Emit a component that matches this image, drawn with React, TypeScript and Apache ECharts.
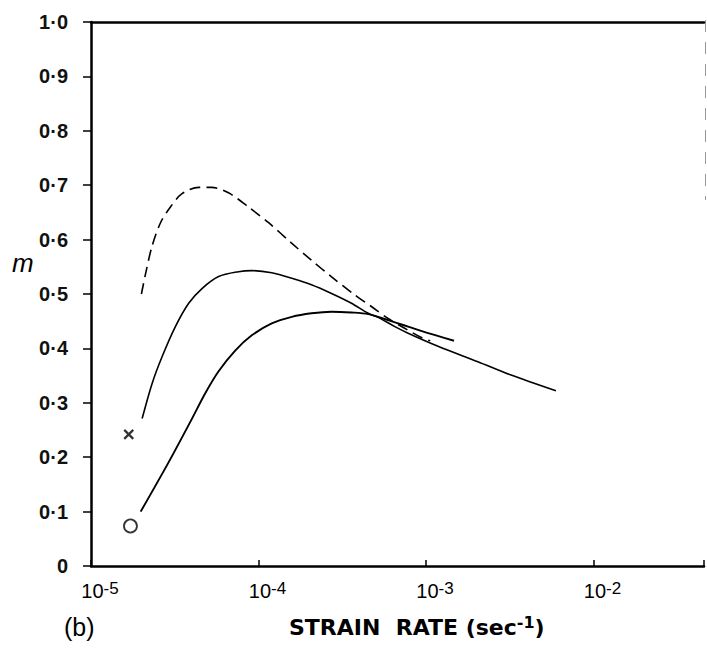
import React, { useEffect, useRef } from "react";
import * as echarts from "echarts";

// Strain rate (sec^-1) and m values
const dashedRate = [2.0e-5, 2.12e-5, 2.31e-5, 2.6e-5, 2.98e-5, 3.48e-5, 4.4e-5, 5.25e-5, 6.62e-5, 8.71e-5, 1.15e-4, 1.57e-4, 2.07e-4, 2.72e-4, 3.77e-4, 4.72e-4, 5.94e-4, 7.46e-4, 9.38e-4, 1.06e-3];
const dashedM = [0.5, 0.538, 0.587, 0.631, 0.66, 0.684, 0.696, 0.696, 0.686, 0.66, 0.631, 0.594, 0.562, 0.532, 0.498, 0.477, 0.455, 0.437, 0.42, 0.414];

const upperRate = [2.02e-5, 2.32e-5, 2.66e-5, 3.19e-5, 3.83e-5, 4.6e-5, 5.78e-5, 7.6e-5, 9.12e-5, 1.2e-4, 1.58e-4, 2.07e-4, 2.73e-4, 3.59e-4, 4.52e-4, 5.18e-4, 6.52e-4, 7.82e-4, 1.18e-3, 2.04e-3, 3.22e-3, 5.97e-3];
const upperM = [0.271, 0.336, 0.385, 0.44, 0.483, 0.51, 0.532, 0.541, 0.543, 0.539, 0.529, 0.517, 0.501, 0.483, 0.4645, 0.457, 0.44, 0.428, 0.404, 0.3756, 0.351, 0.322];

const lowerRate = [1.98e-5, 2.91e-5, 4.01e-5, 4.82e-5, 5.78e-5, 7.26e-5, 9.12e-5, 1.2e-4, 1.58e-4, 2.07e-4, 2.73e-4, 3.59e-4, 4.52e-4, 5.94e-4, 7.82e-4, 1.03e-3, 1.47e-3];
const lowerM = [0.1, 0.191, 0.271, 0.318, 0.358, 0.396, 0.424, 0.446, 0.458, 0.4645, 0.4675, 0.466, 0.463, 0.452, 0.44, 0.428, 0.414];

const crossPoint = [1.68e-5, 0.242];
const circlePoint = [1.72e-5, 0.0735];

const xMin = 1e-5;
const xMax = Math.pow(10, -1.34);
const yTicks = [0, 0.1, 0.2, 0.3, 0.4, 0.5, 0.6, 0.7, 0.8, 0.9, 1.0];

const pairs = (xs: number[], ys: number[]) => xs.map((x, i) => [x, ys[i]]);

export default function App() {
  const ref = useRef<HTMLDivElement>(null);
  useEffect(() => {
    if (!ref.current) return;
    const chart = echarts.init(ref.current, null, { renderer: "svg" });
    const font = "Liberation Sans";
    const lineCommon = {
      type: "line" as const,
      smooth: 0.3,
      showSymbol: false,
      symbol: "none",
      silent: true,
    };
    chart.setOption({
      animation: false,
      backgroundColor: "#ffffff",
      grid: { left: 91, right: 1, top: 22, bottom: 100, show: false },
      xAxis: [
        {
          type: "log",
          logBase: 10,
          min: xMin,
          max: xMax,
          position: "bottom",
          axisLine: { show: true, lineStyle: { color: "#000", width: 2.5 } },
          axisTick: { show: true, inside: true, length: 6, lineStyle: { color: "#000", width: 1.5 } },
          splitLine: { show: false },
          axisLabel: {
            margin: 14,
            formatter: (v: number) => {
              const e = Math.log10(v);
              if (Math.abs(e - Math.round(e)) > 1e-6) return "";
              return "{b|10}{s|-" + -Math.round(e) + "}";
            },
            rich: {
              b: { fontFamily: font, fontSize: 20, color: "#000", padding: [0, 0, 0, 18], lineHeight: 22 },
              s: { fontFamily: font, fontSize: 17, color: "#000", verticalAlign: "top", lineHeight: 15, padding: [0, 0, 10, 0] },
            },
          },
        },
        {
          type: "log",
          logBase: 10,
          min: xMin,
          max: xMax,
          position: "top",
          axisLine: { show: true, lineStyle: { color: "#000", width: 2.5 } },
          axisTick: { show: false },
          axisLabel: { show: false },
          splitLine: { show: false },
        },
      ],
      yAxis: [
        {
          type: "value",
          min: 0,
          max: 1,
          interval: 0.1,
          position: "left",
          axisLine: { show: true, lineStyle: { color: "#000", width: 2.5 } },
          axisTick: { show: true, inside: false, length: 8, lineStyle: { color: "#000", width: 1.5 } },
          splitLine: { show: false },
          axisLabel: {
            margin: 23,
            fontFamily: font,
            fontSize: 20,
            fontWeight: "bold",
            color: "#111",
            formatter: (v: number) => {
              const t = yTicks.find((k) => Math.abs(k - v) < 1e-6);
              if (t === undefined) return "";
              return t === 0 ? "0" : t.toFixed(1).replace(".", "\u00b7");
            },
          },
        },
      ],
      series: [
        {
          ...lineCommon,
          name: "dashed",
          data: pairs(dashedRate, dashedM),
          lineStyle: { color: "#000", width: 1.6, type: [11, 6] },
        },
        {
          ...lineCommon,
          name: "upper",
          data: pairs(upperRate, upperM),
          lineStyle: { color: "#000", width: 1.6 },
        },
        {
          ...lineCommon,
          name: "lower",
          data: pairs(lowerRate, lowerM),
          lineStyle: { color: "#000", width: 1.9 },
        },
        {
          type: "scatter",
          name: "cross",
          data: [crossPoint],
          symbol: "path://M0,0L10,10M10,0L0,10",
          symbolSize: 9,
          itemStyle: { color: "none", borderColor: "#000", borderWidth: 2.2 },
          silent: true,
        },
        {
          type: "scatter",
          name: "circle",
          data: [circlePoint],
          symbol: "circle",
          symbolSize: 13,
          itemStyle: { color: "#fff", borderColor: "#000", borderWidth: 1.8 },
          silent: true,
        },
      ],
      graphic: [
        {
          type: "line",
          shape: { x1: 705.5, y1: 20, x2: 705.5, y2: 200 },
          style: { stroke: "#999", lineWidth: 1, lineDash: [12, 10] },
          silent: true,
        },
        {
          type: "text",
          left: 12,
          top: 250,
          style: { text: "m", fontFamily: font, fontSize: 26, fontStyle: "italic", fill: "#000" },
        },
        {
          type: "text",
          left: 64,
          top: 614,
          style: { text: "(b)", fontFamily: font, fontSize: 25, fill: "#000" },
        },
        {
          type: "text",
          left: 289,
          top: 614,
          style: {
            text: "{a|STRAIN  RATE (sec}{s|-1}{a|)}",
            rich: {
              a: { fontFamily: "DejaVu Sans", fontSize: 22, fontWeight: "bold", fill: "#000", color: "#000", lineHeight: 26 },
              s: { fontFamily: "DejaVu Sans", fontSize: 16, fontWeight: "bold", fill: "#000", color: "#000", verticalAlign: "top", lineHeight: 14, padding: [0, 0, 10, 0] },
            },
          },
        },
      ],
    });
    return () => chart.dispose();
  }, []);
  return (
    <div
      ref={ref}
      style={{ position: "fixed", left: 0, top: 0, width: 707, height: 666, background: "#fff" }}
    />
  );
}
